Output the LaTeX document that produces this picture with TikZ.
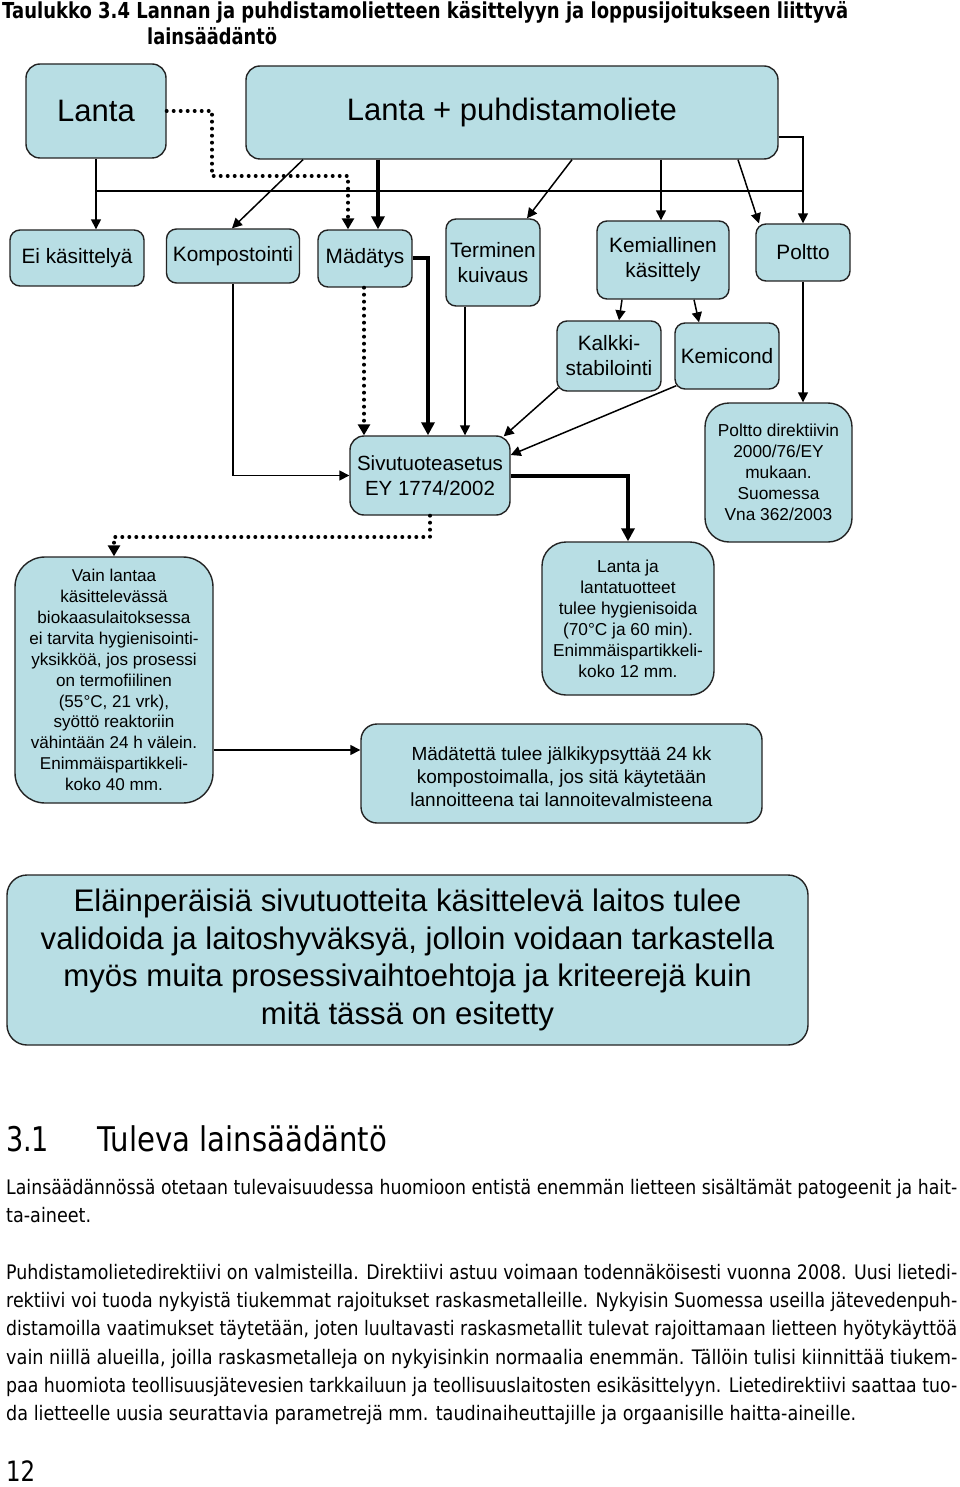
\documentclass[tikz,border=0pt]{standalone}
\usepackage{fontspec}
\usepackage{graphicx}
\setmainfont{Liberation Sans}
\newfontfamily\tah{DejaVu Sans}
\usetikzlibrary{arrows.meta,calc}
\definecolor{boxfill}{RGB}{184,222,228}
\definecolor{edgecol}{RGB}{35,35,35}
\newcommand{\fsz}[2]{\fontsize{#1}{#2}\selectfont}
\newcommand{\jl}[2]{\resizebox{#1}{\height}{#2}}
\begin{document}
\begin{tikzpicture}[x=1pt,y=-1pt,
  box/.style={draw=edgecol, line width=1.4pt, fill=boxfill, rounded corners=10pt, align=center, inner sep=0pt},
  conn/.style={line width=1.5pt, -{Triangle[length=10pt,width=10pt]}},
  plainline/.style={line width=1.5pt},
  heavyconn/.style={line width=4pt, -{Triangle[length=13pt,width=13pt]}},
  dotconn/.style={line width=4pt, dash pattern=on 0pt off 7pt, line cap=round, -{Triangle[length=11pt,width=12pt]}},
  bodyline/.style={anchor=base west, inner sep=0pt, font=\tah\fsz{20}{24}},
  titleline/.style={anchor=base west, inner sep=0pt, font=\tah\bfseries\fsz{22}{26}}
]
\useasboundingbox[fill=white] (0,0) rectangle (960,1487);

% title
\node[titleline] (ti1) at (2,19) {\jl{846pt}{Taulukko 3.4 Lannan ja puhdistamolietteen käsittelyyn ja loppusijoitukseen liittyvä}};
\node[titleline] (ti2) at (147,45) {\jl{130pt}{lainsäädäntö}};

% boxes
\node[box, rounded corners=14pt, minimum width=140pt, minimum height=94pt, font=\fsz{31}{36}] (lanta) at (96,111) {Lanta};
\node[box, rounded corners=14pt, minimum width=532pt, minimum height=93pt, font=\fsz{31}{36}] (lp) at (512,112.5) {Lanta + puhdistamoliete};
\node[box, minimum width=134pt, minimum height=56pt, font=\fsz{20.8}{25}] (ei) at (77,258) {Ei käsittelyä};
\node[box, minimum width=133pt, minimum height=54pt, font=\fsz{20.8}{25}] (komp) at (233,256) {Kompostointi};
\node[box, minimum width=94pt, minimum height=57pt, font=\fsz{20.8}{25}] (mad) at (365,258.5) {Mädätys};
\node[box, minimum width=94pt, minimum height=87pt, font=\fsz{20.8}{25}] (term) at (493,262.5) {Terminen\\kuivaus};
\node[box, minimum width=132pt, minimum height=78pt, font=\fsz{20.8}{25}] (kem) at (663,260) {Kemiallinen\\käsittely};
\node[box, minimum width=94pt, minimum height=57pt, font=\fsz{20.8}{25}] (poltto) at (803,252.5) {Poltto};
\node[box, minimum width=104pt, minimum height=70pt, font=\fsz{20.8}{25}] (kalk) at (609,356) {Kalkki-\\stabilointi};
\node[box, minimum width=104pt, minimum height=66pt, font=\fsz{20.8}{25}] (kemi) at (727,356) {Kemicond};
\node[box, rounded corners=14pt, minimum width=160pt, minimum height=79pt, font=\fsz{20.5}{25}] (sivu) at (430,475.5) {Sivutuoteasetus\\EY 1774/2002};
\node[box, rounded corners=24pt, minimum width=147pt, minimum height=139pt, font=\fsz{17.3}{21}] (pdir) at (778.5,472.5) {Poltto direktiivin\\2000/76/EY\\mukaan.\\Suomessa\\Vna 362/2003};
\node[box, rounded corners=30pt, minimum width=198pt, minimum height=246pt, font=\fsz{17.1}{20.9}] (vain) at (114,680) {Vain lantaa\\käsittelevässä\\biokaasulaitoksessa\\ei tarvita hygienisointi-\\yksikköä, jos prosessi\\on termofiilinen\\(55°C, 21 vrk),\\syöttö reaktoriin\\vähintään 24 h välein.\\Enimmäispartikkeli-\\koko 40 mm.};
\node[box, rounded corners=24pt, minimum width=172pt, minimum height=153pt, font=\fsz{17.3}{21}] (lja) at (628,618.5) {Lanta ja\\lantatuotteet\\tulee hygienisoida\\(70°C ja 60 min).\\Enimmäispartikkeli-\\koko 12 mm.};
\node[box, rounded corners=16pt, minimum width=401pt, minimum height=99pt] (madt) at (561.5,773.5) {};
\node[align=center, inner sep=0pt, font=\fsz{19}{23}] (madttxt) at ([yshift=-3pt]madt.center) {Mädätettä tulee jälkikypsyttää 24 kk\\kompostoimalla, jos sitä käytetään\\lannoitteena tai lannoitevalmisteena};
\node[box, rounded corners=20pt, minimum width=801pt, minimum height=170pt, font=\fsz{31.2}{37.7}] (big) at (407.5,960) {Eläinperäisiä sivutuotteita käsittelevä laitos tulee\\validoida ja laitoshyväksyä, jolloin voidaan tarkastella\\myös muita prosessivaihtoehtoja ja kriteerejä kuin\\mitä tässä on esitetty};

% connectors
\draw[conn] (lanta.south) -- (lanta.south |- ei.north);
\draw[plainline] (lanta.south |- 0,191) -- (poltto.north |- 0,191);
\draw[conn] (lp.east |- 0,137) -- (poltto.north |- 0,137) -- (poltto.north);
\draw[conn] (303,0 |- lp.south) -- (232,0 |- komp.north);
\draw[heavyconn] (378,0 |- lp.south) -- (378,0 |- mad.north);
\draw[conn] (572,0 |- lp.south) -- (527,0 |- term.north);
\draw[conn] (661,0 |- lp.south) -- (661,0 |- kem.north);
\draw[conn] (738,0 |- lp.south) -- (759,0 |- poltto.north);
\draw[dotconn] (lanta.east) -- (212,0 |- lanta.east) -- (212,176) -- (348,176) -- (348,0 |- mad.north);
\draw[conn] (622,0 |- kem.south) -- (619,0 |- kalk.north);
\draw[conn] (694,0 |- kem.south) -- (699,0 |- kemi.north);
\draw[conn] (poltto.south) -- (poltto.south |- pdir.north);
\draw[conn] (komp.south) -- (komp.south |- sivu.west) -- (sivu.west);
\draw[dotconn] (364,0 |- mad.south) -- (364,0 |- sivu.north);
\draw[heavyconn] (mad.east) -- (428,0 |- mad.east) -- (428,0 |- sivu.north);
\draw[conn] (465,0 |- term.south) -- (465,0 |- sivu.north);
\draw[conn] ($(kalk.south west)+(2,-4)$) -- ($(sivu.north east)+(-7,1)$);
\draw[conn] ($(kemi.south west)+(2,-4)$) -- (sivu.east |- 0,455);
\draw[heavyconn] (sivu.east) -- (628,0 |- sivu.east) -- (628,0 |- lja.north);
\draw[dotconn] (sivu.south) -- (sivu.south |- 0,537) -- (vain.north |- 0,537) -- (vain.north);
\draw[conn] (vain.east |- 0,750) -- (madt.west |- 0,750);

% section heading and text
\node[anchor=base west, inner sep=0pt, font=\tah\fsz{34}{40}] (h1) at (6,1151) {\jl{43pt}{3.1}};
\node[anchor=base west, inner sep=0pt, font=\tah\fsz{34}{40}] (h2) at (97,1151) {\jl{290pt}{Tuleva lainsäädäntö}};
\node[bodyline] (p1) at (6,1194) {\jl{951pt}{Lainsäädännössä otetaan tulevaisuudessa huomioon entistä enemmän lietteen sisältämät patogeenit ja hait-}};
\node[bodyline] (p2) at (6,1222) {\jl{85pt}{ta-aineet.}};
\node[bodyline] (p3) at (6,1279) {\jl{951pt}{Puhdistamolietedirektiivi on valmisteilla. Direktiivi astuu voimaan todennäköisesti vuonna 2008. Uusi lietedi-}};
\node[bodyline] (p4) at (6,1307) {\jl{951pt}{rektiivi voi tuoda nykyistä tiukemmat rajoitukset raskasmetalleille. Nykyisin Suomessa useilla jätevedenpuh-}};
\node[bodyline] (p5) at (6,1335) {\jl{951pt}{distamoilla vaatimukset täytetään, joten luultavasti raskasmetallit tulevat rajoittamaan lietteen hyötykäyttöä}};
\node[bodyline] (p6) at (6,1364) {\jl{951pt}{vain niillä alueilla, joilla raskasmetalleja on nykyisinkin normaalia enemmän. Tällöin tulisi kiinnittää tiukem-}};
\node[bodyline] (p7) at (6,1392) {\jl{951pt}{paa huomiota teollisuusjätevesien tarkkailuun ja teollisuuslaitosten esikäsittelyyn. Lietedirektiivi saattaa tuo-}};
\node[bodyline] (p8) at (6,1420) {\jl{850pt}{da lietteelle uusia seurattavia parametrejä mm. taudinaiheuttajille ja orgaanisille haitta-aineille.}};
\node[anchor=base west, inner sep=0pt, font=\tah\fsz{28}{34}] (pg) at (6,1481) {\jl{29pt}{12}};
\end{tikzpicture}
\end{document}
